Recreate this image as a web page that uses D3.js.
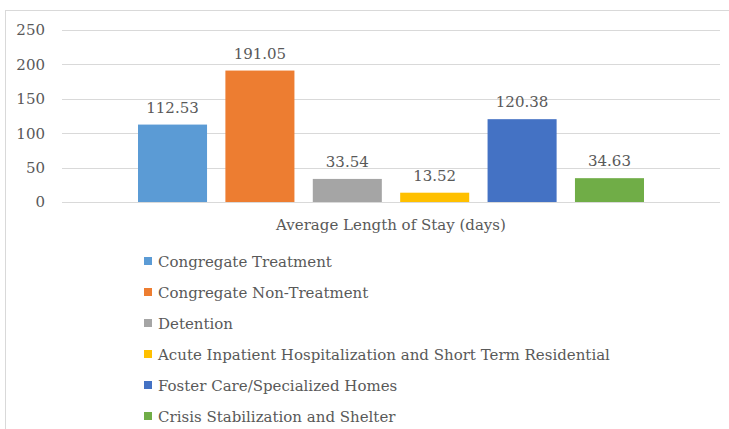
<!DOCTYPE html>
<html>
<head>
<meta charset="utf-8">
<script src="https://cdn.jsdelivr.net/npm/d3@7"></script>
<style>
  body { margin: 0; background: #fff; }
  svg text { font-family: "DejaVu Serif", "Liberation Serif", serif; fill: #595959; }
</style>
</head>
<body>
<div id="chart"></div>
<script>
// chart values
var seriesNames = [
  "Congregate Treatment",
  "Congregate Non-Treatment",
  "Detention",
  "Acute Inpatient Hospitalization and Short Term Residential",
  "Foster Care/Specialized Homes",
  "Crisis Stabilization and Shelter"
];
var seriesValues = [112.53, 191.05, 33.54, 13.52, 120.38, 34.63];
var seriesColors = ["#5b9bd5", "#ed7d31", "#a5a5a5", "#ffc000", "#4472c4", "#70ad47"];
var yTicks = [0, 50, 100, 150, 200, 250];
var categoryLabel = "Average Length of Stay (days)";

var width = 729;
var height = 429;
var fontSize = 15;

var svg = d3
  .select("#chart")
  .append("svg")
  .attr("width", width)
  .attr("height", height);

// outer frame (only top and left edges fall inside the picture)
svg
  .append("rect")
  .attr("x", 5.5)
  .attr("y", 10.5)
  .attr("width", width + 20)
  .attr("height", height + 20)
  .attr("fill", "none")
  .attr("stroke", "#d9d9d9");

var plotLeft = 62;
var plotRight = 720;

var yScale = d3.scaleLinear().domain([0, 250]).range([202, 30]);

var xScale = d3
  .scaleBand()
  .domain(seriesNames)
  .range([138, 644])
  .paddingInner(0.21)
  .paddingOuter(0);

// gridlines
svg
  .append("g")
  .selectAll("line")
  .data(yTicks)
  .enter()
  .append("line")
  .attr("x1", plotLeft)
  .attr("x2", plotRight)
  .attr("y1", function (d) { return Math.round(yScale(d)) + 0.5; })
  .attr("y2", function (d) { return Math.round(yScale(d)) + 0.5; })
  .attr("stroke", "#d9d9d9")
  .attr("stroke-width", 1);

// y axis labels
var yAxis = d3.axisLeft(yScale).tickValues(yTicks).tickSize(0).tickPadding(0);
var yAxisG = svg
  .append("g")
  .attr("transform", "translate(45,0)")
  .call(yAxis);
yAxisG.select(".domain").remove();
yAxisG
  .selectAll("text")
  .attr("font-size", fontSize)
  .attr("font-family", null)
  .attr("fill", null);

// bars
svg
  .append("g")
  .selectAll("rect")
  .data(seriesValues)
  .enter()
  .append("rect")
  .attr("x", function (d, i) { return xScale(seriesNames[i]); })
  .attr("y", function (d) { return yScale(d); })
  .attr("width", xScale.bandwidth())
  .attr("height", function (d) { return yScale(0) - yScale(d); })
  .attr("fill", function (d, i) { return seriesColors[i]; });

// value labels
svg
  .append("g")
  .selectAll("text")
  .data(seriesValues)
  .enter()
  .append("text")
  .attr("x", function (d, i) { return xScale(seriesNames[i]) + xScale.bandwidth() / 2; })
  .attr("y", function (d) { return yScale(d) - 12; })
  .attr("text-anchor", "middle")
  .attr("font-size", fontSize)
  .text(function (d) { return d.toFixed(2); });

// category label
svg
  .append("text")
  .attr("x", (plotLeft + plotRight) / 2)
  .attr("y", 230)
  .attr("text-anchor", "middle")
  .attr("font-size", fontSize)
  .text(categoryLabel);

// legend
var legend = svg
  .append("g")
  .selectAll("g")
  .data(seriesNames)
  .enter()
  .append("g")
  .attr("transform", function (d, i) { return "translate(144," + (261 + i * 31) + ")"; });

legend
  .append("rect")
  .attr("x", 0)
  .attr("y", -4)
  .attr("width", 8)
  .attr("height", 8)
  .attr("fill", function (d, i) { return seriesColors[i]; });

legend
  .append("text")
  .attr("x", 14)
  .attr("y", 5.5)
  .attr("font-size", fontSize)
  .text(function (d) { return d; });
</script>
</body>
</html>
